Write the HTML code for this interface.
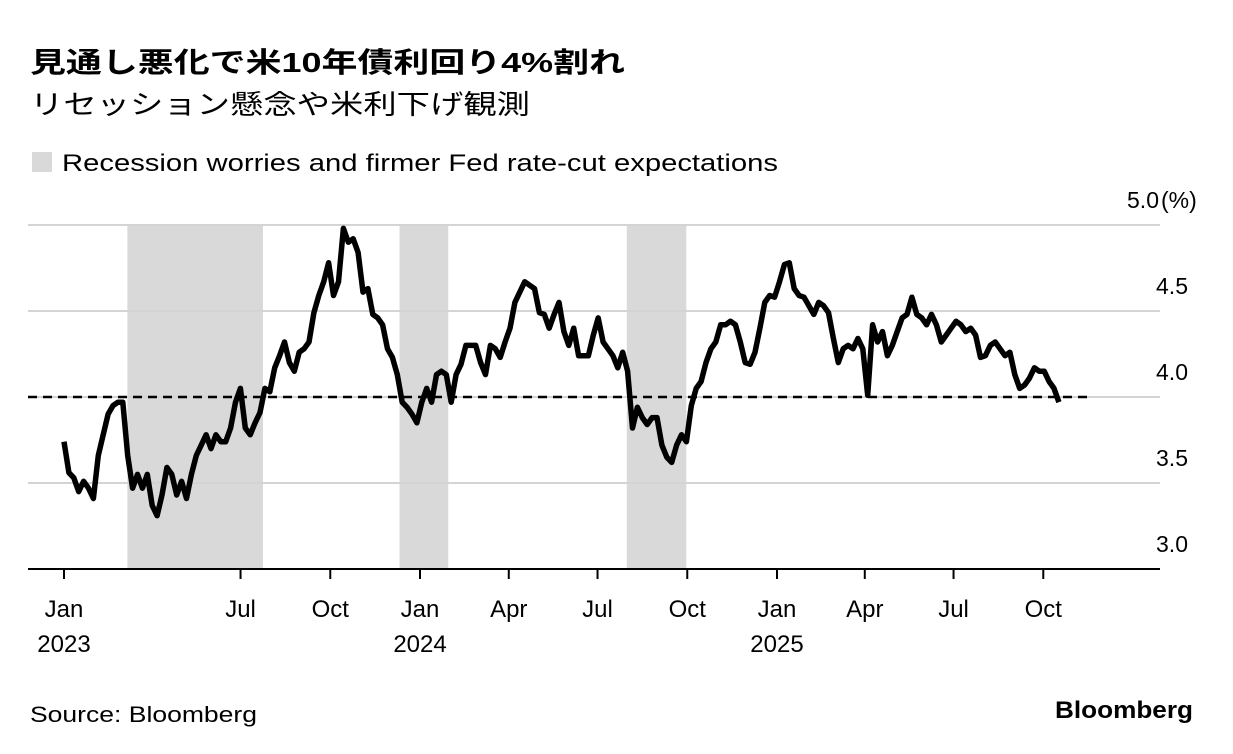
<!DOCTYPE html>
<html lang="ja"><head><meta charset="utf-8">
<style>
html,body{margin:0;padding:0;background:#fff;}
svg{display:block;font-family:"Liberation Sans","Noto Sans CJK JP",sans-serif;}
</style></head>
<body>
<svg id="chart" width="1233" height="754" viewBox="0 0 1233 754" xmlns="http://www.w3.org/2000/svg">
<text x="30" y="72" font-size="28" font-weight="bold" fill="#000" textLength="595" lengthAdjust="spacingAndGlyphs">見通し悪化で米10年債利回り4%割れ</text>
<text x="30" y="114" font-size="27" fill="#000" textLength="500" lengthAdjust="spacingAndGlyphs">リセッション懸念や米利下げ観測</text>
<rect x="32" y="152" width="20" height="20" fill="#d9d9d9"/>
<text x="62" y="171" font-size="24" fill="#000" textLength="716" lengthAdjust="spacingAndGlyphs">Recession worries and firmer Fed rate-cut expectations</text>
<g id="shades"></g>
<g id="grid"></g>
<g id="xaxis"></g>
<path id="line" fill="none" stroke="#000" stroke-width="5.5" stroke-linejoin="round"/>
<text x="30" y="722" font-size="22" fill="#000" textLength="227" lengthAdjust="spacingAndGlyphs">Source: Bloomberg</text>
<text x="1055" y="718" font-size="24" font-weight="bold" fill="#000" textLength="138" lengthAdjust="spacingAndGlyphs">Bloomberg</text>
</svg>
<script>
const startDate = "2023-01-01";
const endDate = "2025-10-17";
const yields = [3.74,3.56,3.53,3.45,3.51,3.47,3.41,3.66,3.78,3.90,3.95,3.97,3.97,3.66,3.47,3.55,3.47,3.55,3.37,3.31,3.43,3.59,3.55,3.43,3.51,3.41,3.55,3.66,3.72,3.78,3.70,3.78,3.74,3.74,3.82,3.97,4.05,3.82,3.78,3.85,3.91,4.05,4.03,4.17,4.24,4.32,4.20,4.15,4.26,4.28,4.32,4.49,4.59,4.67,4.78,4.59,4.67,4.98,4.90,4.92,4.84,4.61,4.63,4.48,4.46,4.42,4.28,4.23,4.13,3.97,3.94,3.90,3.85,3.97,4.05,3.97,4.13,4.15,4.13,3.97,4.13,4.19,4.30,4.30,4.30,4.20,4.13,4.30,4.28,4.23,4.32,4.40,4.55,4.61,4.67,4.65,4.63,4.49,4.48,4.40,4.48,4.55,4.38,4.30,4.40,4.24,4.24,4.24,4.36,4.46,4.32,4.28,4.24,4.17,4.26,4.15,3.82,3.94,3.88,3.84,3.88,3.88,3.72,3.65,3.62,3.72,3.78,3.74,3.95,4.05,4.09,4.20,4.28,4.32,4.42,4.42,4.44,4.42,4.32,4.20,4.19,4.26,4.40,4.55,4.59,4.58,4.67,4.77,4.78,4.63,4.59,4.58,4.53,4.48,4.55,4.53,4.49,4.34,4.20,4.28,4.30,4.28,4.34,4.28,4.01,4.42,4.32,4.38,4.24,4.30,4.38,4.46,4.48,4.58,4.48,4.46,4.42,4.48,4.42,4.32,4.36,4.40,4.44,4.42,4.38,4.40,4.36,4.23,4.24,4.30,4.32,4.28,4.24,4.26,4.13,4.05,4.07,4.11,4.17,4.15,4.15,4.09,4.05,3.97];
const shadeStarts = ["2023-03-07","2023-12-11","2024-07-31"];
const shadeEnds = ["2023-07-24","2024-01-30","2024-09-30"];
const yTicks = [3.0,3.5,4.0,4.5,5.0];
const yTickLabels = ["3.0","3.5","4.0","4.5","5.0"];
const xTickDates = ["2023-01-01","2023-07-01","2023-10-01","2024-01-01","2024-04-01","2024-07-01","2024-10-01","2025-01-01","2025-04-01","2025-07-01","2025-10-01"];
const xTickLabels = ["Jan","Jul","Oct","Jan","Apr","Jul","Oct","Jan","Apr","Jul","Oct"];
const xYearLabels = ["2023","","","2024","","","","2025","","",""];
const thresholdValue = 4.0;

const NS = "http://www.w3.org/2000/svg";
const t0 = Date.parse("2023-01-01"), t1 = Date.parse("2025-01-01");
function xScale(dateStr){ return 64 + (Date.parse(dateStr)-t0)/(t1-t0)*(777-64); }
function xScaleT(t){ return 64 + (t-t0)/(t1-t0)*(777-64); }
function yScale(v){ return 397 - (v-4)*172; }
function mk(tag, attrs, parent){ const e=document.createElementNS(NS,tag); for(const k in attrs) e.setAttribute(k,attrs[k]); parent.appendChild(e); return e; }

const shades = document.getElementById("shades");
shadeStarts.forEach((s,i)=>{
  const x0 = xScale(s), x1 = xScale(shadeEnds[i]);
  const r = mk("rect",{x:x0,y:yScale(5.0),width:x1-x0,height:yScale(3.0)-yScale(5.0),fill:"#d9d9d9"},shades);
  
  
});

const grid = document.getElementById("grid");
yTicks.forEach((v,i)=>{
  const y = yScale(v);
  const last = i===yTicks.length-1;
  if (i>0) {
    const l = mk("line",{x1:28,x2:1160,y1:y,y2:y,stroke:"#d4d4d4","stroke-width":2},grid);
    
    
  }
  const t = mk("text",{x:last?1159:1188,y:y-17,"font-size":23,"text-anchor":"end",fill:"#000"},grid);
  t.textContent = yTickLabels[i];
  
  
  if (last){
    const u = mk("text",{x:1161,y:y-17,"font-size":23,fill:"#000"},grid);
    u.textContent = "(%)";
    
    
  }
});
const th = mk("line",{x1:28,x2:1090,y1:yScale(thresholdValue),y2:yScale(thresholdValue),stroke:"#000","stroke-width":2.5,"stroke-dasharray":"9,6"},grid);



const xa = document.getElementById("xaxis");
const ax = mk("line",{x1:28,x2:1160,y1:yScale(3.0),y2:yScale(3.0),stroke:"#000","stroke-width":2},xa);


xTickDates.forEach((d,i)=>{
  const x = xScale(d);
  const tk = mk("line",{x1:x,x2:x,y1:yScale(3.0),y2:yScale(3.0)+10,stroke:"#000","stroke-width":2},xa);
  
  
  const t = mk("text",{x:x,y:617,"font-size":24,"text-anchor":"middle",fill:"#000"},xa);
  t.textContent = xTickLabels[i];
  
  
  if (xYearLabels[i]) {
    const yt = mk("text",{x:x,y:652,"font-size":24,"text-anchor":"middle",fill:"#000"},xa);
    yt.textContent = xYearLabels[i];
    
    
  }
});

const ts = Date.parse(startDate), te = Date.parse(endDate);
let dStr = "";
yields.forEach((v,i)=>{
  const t = ts + (te-ts)*i/(yields.length-1);
  dStr += (i?"L":"M") + xScaleT(t).toFixed(1) + "," + yScale(v).toFixed(1);
});
document.getElementById("line").setAttribute("d", dStr);
</script>
</body></html>
